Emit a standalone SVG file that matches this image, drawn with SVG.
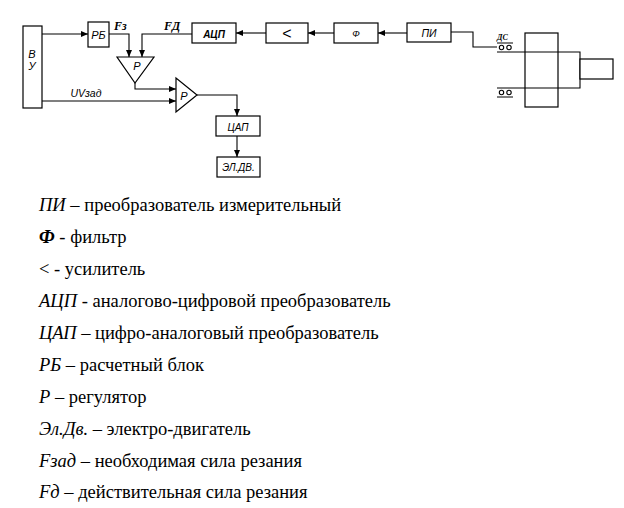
<svg xmlns="http://www.w3.org/2000/svg" width="624" height="508" viewBox="0 0 624 508">
<style>
.box{fill:#fff;stroke:#000;stroke-width:1.2}
.ln{fill:none;stroke:#000;stroke-width:1.1}
.lbl{font-family:"Liberation Sans",Arial,sans-serif;font-style:italic;font-size:10px;fill:#000;text-anchor:middle}
.sig{font-family:"Liberation Serif","Times New Roman",serif;font-style:italic;font-weight:bold;font-size:12px;fill:#000}
.leg{font-family:"Liberation Serif","Times New Roman",serif;font-size:18.5px;fill:#000}
.it{font-style:italic}
</style>
<defs>
<marker id="ah" markerUnits="userSpaceOnUse" markerWidth="8" markerHeight="6" refX="7" refY="3" orient="auto">
<path d="M0,0 L7,3 L0,6 Z" fill="#000"/>
</marker>
</defs>
<rect width="624" height="508" fill="#fff"/>

<g id="connectors">
<path class="ln" d="M42,34 H88" marker-end="url(#ah)"/>
<path class="ln" d="M109,34 H129 V57" marker-end="url(#ah)"/>
<path class="ln" d="M192,34 H142 V57" marker-end="url(#ah)"/>
<path class="ln" d="M266,33 H236" marker-end="url(#ah)"/>
<path class="ln" d="M334,33 H308" marker-end="url(#ah)"/>
<path class="ln" d="M407,33 H378" marker-end="url(#ah)"/>
<path class="ln" d="M451,32 H473 V47 H497"/>
<path class="ln" d="M135,83 V89 H176" marker-end="url(#ah)"/>
<path class="ln" d="M42,101 H176" marker-end="url(#ah)"/>
<path class="ln" d="M197,95 H237 V116" marker-end="url(#ah)"/>
<path class="ln" d="M237,136 V157" marker-end="url(#ah)"/>
<text class="sig" x="114" y="30">Fз</text>
<text class="sig" x="164" y="30">FД</text>
<text class="lbl" x="86" y="97" style="font-size:10.5px">UVзад</text>
</g>

<g id="VU">
<rect class="box" x="23" y="26" width="19" height="82"/>
<text class="lbl" x="32" y="58" style="font-size:11px">В</text>
<text class="lbl" x="32" y="70" style="font-size:11px">У</text>
</g>
<g id="RB">
<rect class="box" x="88" y="22" width="21" height="25"/>
<text class="lbl" x="98.5" y="39" style="font-size:11px">РБ</text>
</g>
<g id="ACP">
<rect class="box" x="192" y="23" width="44" height="20"/>
<text class="lbl" x="214" y="37.5" style="font-weight:bold;font-size:10px">АЦП</text>
</g>
<g id="AMP">
<rect class="box" x="266" y="23" width="42" height="20"/>
<text x="287" y="38.5" text-anchor="middle" style="font-family:'Liberation Sans',Arial,sans-serif;font-size:16px;font-weight:normal">&lt;</text>
</g>
<g id="F">
<rect class="box" x="334" y="23" width="44" height="20"/>
<text class="lbl" x="356" y="37" style="font-size:9.5px">Ф</text>
</g>
<g id="PI">
<rect class="box" x="407" y="23" width="44" height="19"/>
<text class="lbl" x="429" y="37" style="font-size:10.5px">ПИ</text>
</g>
<g id="P1">
<polygon class="box" points="117,57 154,57 135,83"/>
<text class="lbl" x="137" y="70" style="font-size:11px">Р</text>
</g>
<g id="P2">
<polygon class="box" points="176,78 176,112 197,95"/>
<text class="lbl" x="184" y="99.5" style="font-size:11px">Р</text>
</g>
<g id="CAP">
<rect class="box" x="216" y="116" width="44" height="20"/>
<text class="lbl" x="238" y="130.5" style="font-size:10px">ЦАП</text>
</g>
<g id="ELDV">
<rect class="box" x="217" y="157" width="43" height="20"/>
<text class="lbl" x="238.5" y="171" style="font-size:10px">ЭЛ.ДВ.</text>
</g>

<g id="machine">
<rect class="box" x="525" y="33" width="33" height="74" style="fill:none"/>
<path class="ln" d="M497,52 H580 V88 H497"/>
<rect class="box" x="580" y="59" width="33" height="20"/>
<path class="ln" d="M497,43 H513 M497,97 H513"/>
<circle class="ln" cx="501.5" cy="47.5" r="2.2"/>
<circle class="ln" cx="509" cy="47.5" r="2.2"/>
<circle class="ln" cx="501.5" cy="92.5" r="2.2"/>
<circle class="ln" cx="509" cy="92.5" r="2.2"/>
<text x="497" y="40" style="font-family:'Liberation Serif',serif;font-style:italic;font-weight:bold;font-size:8px">ДС</text>
</g>

<g id="legend">
<text class="leg" x="39" y="211"><tspan class="it">ПИ</tspan> – преобразователь измерительный</text>
<text class="leg" x="39" y="243"><tspan class="it" font-weight="bold">Ф</tspan> - фильтр</text>
<text class="leg" x="39" y="275">&lt; - усилитель</text>
<text class="leg" x="39" y="307"><tspan class="it">АЦП</tspan> - аналогово-цифровой преобразователь</text>
<text class="leg" x="39" y="339"><tspan class="it">ЦАП</tspan> – цифро-аналоговый преобразователь</text>
<text class="leg" x="39" y="371"><tspan class="it">РБ</tspan> – расчетный блок</text>
<text class="leg" x="39" y="403"><tspan class="it">Р</tspan> – регулятор</text>
<text class="leg" x="39" y="435"><tspan class="it">Эл.Дв.</tspan> – электро-двигатель</text>
<text class="leg" x="39" y="467"><tspan class="it">Fзад</tspan> – необходимая сила резания</text>
<text class="leg" x="39" y="498"><tspan class="it">Fд</tspan> – действительная сила резания</text>
</g>
</svg>
